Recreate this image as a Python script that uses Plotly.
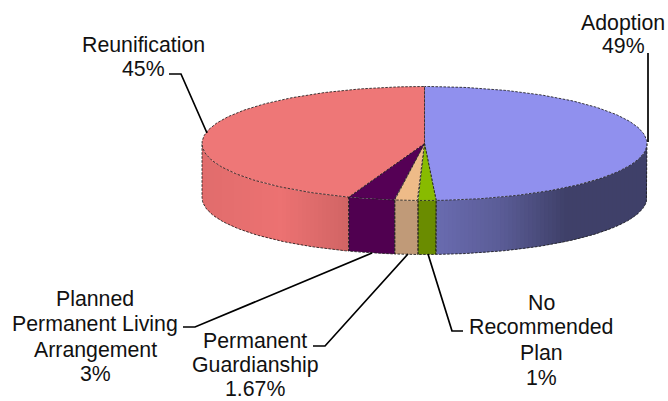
import numpy as np
import plotly.graph_objects as go

# ---- data ----
categories = ["Adoption", "No Recommended Plan", "Permanent Guardianship",
              "Planned Permanent Living Arrangement", "Reunification"]
values = [49.2, 1.3, 1.67, 3.4, 44.5]
value_labels = ["49%", "1%", "1.67%", "3%", "45%"]

top_colors = ["#9090EE", "#88BB00", "#EEBB88", "#550055", "#EE7777"]
side_colors = ["#6A6CB0", "#6A8C00", "#C09A78", "#500050", "#E87070"]

# ---- pie geometry in pixel-like axis units ----
CX, CY, RX, RY, DEPTH = 424.5, 143.5, 222.5, 57.0, 54.0
W, H = 668, 401
LINE = "rgba(30,30,30,0.85)"
OUTLINE = dict(color=LINE, width=1, dash="2.5px,1.5px")
FONT = dict(family="Liberation Sans, Arial, sans-serif", size=21.3, color="#111111")

fracs = np.cumsum([0] + values) / sum(values)
angles = 2 * np.pi * fracs          # clockwise from top


def ex(t):
    return CX + RX * np.sin(t)


def ey(t):
    return CY - RY * np.cos(t)


def x_to_angle(x):
    # front half of the ellipse only
    return np.pi - np.arcsin(np.clip((x - CX) / RX, -1, 1))


def shade(hex_color, factor):
    r, g, b = [int(hex_color[i:i + 2], 16) for i in (1, 3, 5)]
    return f"rgb({min(255, int(r * factor))},{min(255, int(g * factor))},{min(255, int(b * factor))})"


def side_factor(i, x):
    if i == 0:   # blue wall darkens to the right
        return float(np.interp(x, [436, 500, 565, 647], [1.0, 0.86, 0.60, 0.60]))
    if i == 4:   # red wall brightens then darkens
        return float(np.interp(x, [202, 280, 349], [0.97, 1.02, 0.90]))
    return 1.0


def wall(t0, t1, color):
    ts = np.linspace(t0, t1, 8)
    px = np.r_[ex(ts), ex(ts[::-1])]
    py = np.r_[ey(ts), ey(ts[::-1]) + DEPTH]
    fig.add_trace(go.Scatter(x=px, y=py, mode="lines", fill="toself", fillcolor=color,
                             line=dict(width=0), hoverinfo="skip", showlegend=False))


fig = go.Figure()

# side wall: each band overlaps its neighbour so no seams show
STEP, OVERLAP = 4.0, 2.0
for i in range(len(values)):
    a0 = max(angles[i], np.pi / 2)
    a1 = min(angles[i + 1], 3 * np.pi / 2)
    if a1 <= a0:
        continue
    x_hi, x_lo = ex(a0), ex(a1)
    if i in (0, 4):
        x_edges = np.arange(x_lo, x_hi, STEP)
        for xl in x_edges:
            xr = min(xl + STEP + OVERLAP, x_hi)
            wall(x_to_angle(xr), x_to_angle(xl), shade(side_colors[i], side_factor(i, xl + STEP / 2)))
    else:
        wall(a0, a1, side_colors[i])

# side wall outlines
for i in range(len(values)):
    a0 = max(angles[i], np.pi / 2)
    a1 = min(angles[i + 1], 3 * np.pi / 2)
    ts = np.linspace(a0, a1, 80)
    px = np.r_[ex(a0), ex(ts), ex(a1)]
    py = np.r_[ey(a0), ey(ts) + DEPTH, ey(a1)]
    fig.add_trace(go.Scatter(x=px, y=py, mode="lines", line=OUTLINE,
                             hoverinfo="skip", showlegend=False))

# top sectors
for i in range(len(values)):
    ts = np.linspace(angles[i], angles[i + 1], 160)
    px = np.r_[CX, ex(ts), CX]
    py = np.r_[CY, ey(ts), CY]
    fig.add_trace(go.Scatter(x=px, y=py, mode="lines", fill="toself", fillcolor=top_colors[i],
                             line=OUTLINE, name=categories[i], showlegend=False))

# leader lines
leaders = [
    ([169, 181, 207], [74, 74, 133]),
    ([648, 648], [53, 142]),
    ([183, 195, 372], [327, 327, 253]),
    ([313, 325, 408], [346, 346, 254]),
    ([428, 452, 463], [254, 331, 331]),
]
for lx, ly in leaders:
    fig.add_trace(go.Scatter(x=lx, y=ly, mode="lines", line=dict(color="#000000", width=1.7),
                             hoverinfo="skip", showlegend=False))

# labels, one line at a time
label_lines = [
    (623, [("Adoption", 23), (value_labels[0], 46)]),
    (541, [("No", 303), ("Recommended", 327), ("Plan", 353), (value_labels[1], 378)]),
    (255, [("Permanent", 341), ("Guardianship", 365), (value_labels[2], 388.5)]),
    (95, [("Planned", 299), ("Permanent Living", 324), ("Arrangement", 350), (value_labels[3], 374)]),
    (143, [("Reunification", 45), (value_labels[4], 69)]),
]
for x, rows in label_lines:
    for text, y in rows:
        fig.add_annotation(x=x, y=y, text=text, showarrow=False, xanchor="center", yanchor="middle",
                           font=FONT, xref="x", yref="y")

fig.update_layout(width=W, height=H, margin=dict(l=0, r=0, t=0, b=0), autosize=False,
                  paper_bgcolor="white", plot_bgcolor="white",
                  xaxis=dict(range=[0, W], visible=False, fixedrange=True),
                  yaxis=dict(range=[H, 0], visible=False, fixedrange=True))

fig.write_html("out.html", config={"displayModeBar": False},
               post_script="document.body.style.margin='0';document.documentElement.style.overflow='hidden';")
